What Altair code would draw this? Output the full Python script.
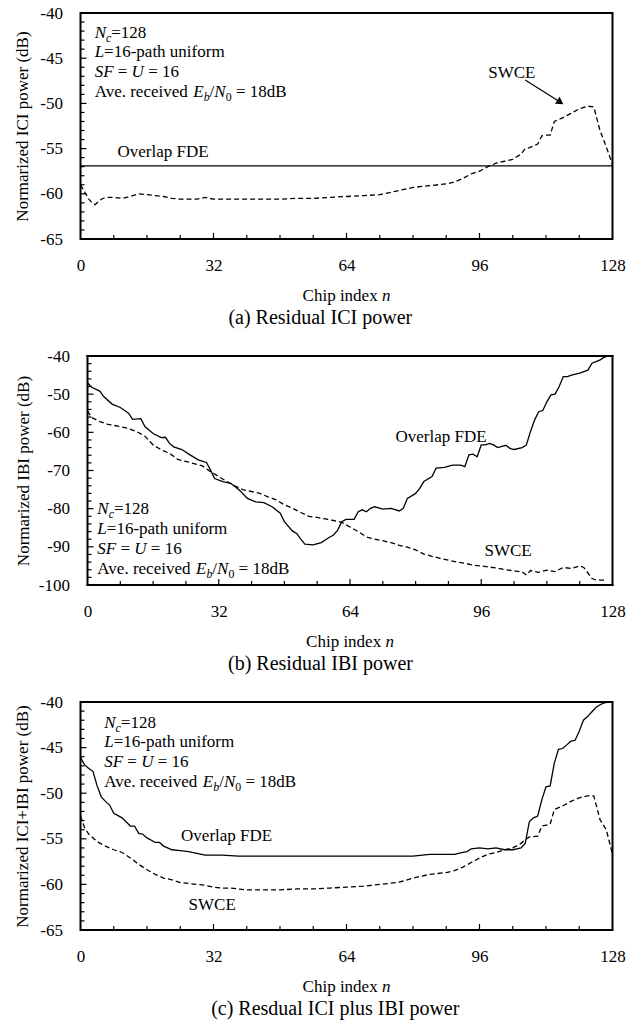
import altair as alt
import pandas as pd

FONT = "Liberation Serif"

# ---------------- data ----------------
# (a) residual ICI power
N_A_SWCE = [0, 1, 2, 3, 3.5, 4, 5, 6, 8, 10, 12, 14, 16, 18, 20, 22, 24, 26, 28, 30, 32, 34, 36,
            40, 44, 48, 52, 56, 60, 64, 68, 72, 76, 80, 84, 88, 90, 92, 94, 96, 98, 100, 102,
            104, 106, 107, 108, 110, 111, 112, 113, 114, 115, 116, 118, 120, 122, 123.5, 125,
            126.5, 128]
P_A_SWCE = [-59.0, -59.8, -60.6, -61.1, -61.2, -61.0, -60.6, -60.4, -60.4, -60.5, -60.3, -60.0,
            -60.1, -60.2, -60.3, -60.5, -60.6, -60.6, -60.6, -60.4, -60.6, -60.6, -60.6,
            -60.6, -60.6, -60.6, -60.5, -60.5, -60.4, -60.3, -60.2, -60.1, -59.7, -59.3, -59.1,
            -58.9, -58.7, -58.3, -57.8, -57.5, -57.0, -56.6, -56.4, -56.2, -55.6, -55.0, -54.9,
            -54.5, -53.6, -53.5, -53.5, -52.0, -51.8, -51.6, -51.1, -50.6, -50.3, -50.4, -53.0,
            -54.8, -56.8]
N_A_FDE = [0, 128]
P_A_FDE = [-56.9, -56.9]

# (b) residual IBI power
N_B_FDE = [0, 1, 3, 4, 6, 8, 10, 11, 13, 14, 16, 18, 19, 20, 21, 23, 25, 27, 29, 30, 31, 33, 35,
           37, 39, 41, 43, 45, 47, 48, 50, 51, 52, 53, 55, 57, 59, 60, 61, 62, 63, 65, 66, 67,
           68, 69, 70, 72, 74, 76, 77, 78, 80, 81, 82, 84, 85, 87, 89, 91, 92, 93, 94, 95, 96,
           97, 98, 99, 100, 102, 103, 104, 106, 107, 108, 109, 110, 111, 112, 113, 114, 115,
           116, 117, 118, 120, 122, 123, 125, 126, 127, 128]
P_B_FDE = [-47.0, -48.2, -49.2, -50.7, -52.6, -53.5, -55.0, -56.6, -56.4, -58.5, -60.3, -61.4,
           -61.3, -62.9, -63.8, -64.5, -65.9, -67.2, -67.9, -69.9, -72.1, -72.9, -73.4, -75.1,
           -77.3, -78.2, -78.4, -79.5, -81.2, -83.4, -85.9, -86.5, -88.0, -89.3, -89.5, -88.9,
           -87.5, -86.9, -85.6, -83.4, -82.8, -82.8, -80.8, -80.3, -80.8, -79.9, -79.5, -80.1,
           -79.9, -80.6, -79.9, -77.3, -76.0, -74.7, -72.9, -71.6, -69.4, -69.2, -68.6, -68.6,
           -69.0, -65.9, -65.7, -66.4, -63.3, -63.3, -62.9, -63.3, -64.0, -63.4, -64.2, -64.5,
           -64.0, -63.3, -59.8, -56.8, -54.6, -54.3, -52.0, -50.2, -50.0, -48.0, -45.4, -45.4,
           -45.0, -44.5, -43.7, -41.9, -41.0, -40.3, -40.0, -40.0]
N_B_SWCE = [0, 1, 3, 5, 8, 10, 12, 14, 16, 18, 20, 22, 25, 28, 30, 32, 34, 36, 38, 40, 42, 44,
            46, 48, 50, 52, 54, 56, 58, 60, 62, 64, 66, 68, 70, 72, 74, 76, 78, 80, 82, 84, 86,
            88, 90, 92, 94, 96, 98, 100, 102, 104, 106, 107, 108, 110, 112, 114, 116, 118, 120,
            121, 123, 124, 126]
P_B_SWCE = [-54.4, -56.1, -57.2, -57.9, -58.5, -59.0, -59.8, -61.0, -63.3, -64.6, -65.5, -67.1,
            -67.9, -68.8, -70.3, -71.6, -72.9, -74.1, -75.1, -75.5, -76.0, -76.9, -77.7, -79.0,
            -79.9, -81.0, -82.0, -82.3, -82.7, -83.1, -83.6, -84.8, -86.0, -87.4, -88.0, -88.4,
            -88.9, -89.6, -90.1, -90.8, -91.9, -92.5, -93.0, -93.5, -94.0, -94.3, -94.8, -95.0,
            -95.3, -95.6, -96.0, -96.3, -96.6, -97.4, -96.2, -96.7, -96.1, -96.5, -95.4, -95.7,
            -95.0, -95.4, -98.3, -98.7, -98.7]

# (c) residual ICI plus IBI power
N_C_FDE = [0, 1, 2, 3, 4, 5, 6, 7, 8, 10, 12, 13, 14, 15, 16, 18, 19, 20, 22, 24, 26, 28, 30,
           34, 38, 44, 50, 56, 62, 68, 74, 80, 84, 88, 90, 92, 93, 94, 96, 98, 100, 102, 104,
           105, 106, 107, 108, 109, 110, 111, 112, 113, 114, 115, 116, 117, 118, 119, 120, 121,
           122, 123, 124, 125, 126, 127]
P_C_FDE = [-46.1, -46.9, -47.3, -47.6, -49.2, -50.4, -50.9, -51.3, -52.2, -52.7, -53.6, -53.6,
           -54.4, -54.5, -54.9, -55.4, -55.4, -55.8, -56.2, -56.3, -56.4, -56.6, -56.8, -56.8,
           -56.9, -56.9, -56.9, -56.9, -56.9, -56.9, -56.9, -56.9, -56.7, -56.7, -56.7, -56.5,
           -56.4, -56.1, -56.0, -56.1, -56.0, -56.2, -56.2, -56.1, -56.0, -55.5, -53.1, -52.7,
           -52.5, -50.7, -49.3, -49.2, -46.7, -45.2, -45.1, -44.7, -44.3, -44.2, -43.2, -42.0,
           -41.6, -41.1, -40.6, -40.3, -40.1, -40.0]
N_C_SWCE = [0, 1, 2, 4, 6, 8, 10, 12, 14, 16, 18, 20, 22, 24, 26, 28, 30, 32, 34, 36, 40, 44,
            48, 52, 56, 60, 64, 68, 72, 76, 78, 80, 84, 88, 90, 92, 94, 96, 98, 100, 102, 104,
            106, 107, 108, 110, 111, 113, 114, 116, 118, 120, 122, 123.5, 125, 126.5, 128]
P_C_SWCE = [-52.5, -53.8, -54.5, -55.3, -55.8, -56.2, -56.5, -57.1, -57.8, -58.4, -58.9, -59.3,
            -59.5, -59.8, -59.9, -60.0, -60.1, -60.3, -60.4, -60.4, -60.6, -60.6, -60.6, -60.5,
            -60.5, -60.4, -60.3, -60.2, -60.0, -59.8, -59.6, -59.3, -58.9, -58.7, -58.5, -58.1,
            -57.6, -57.1, -56.7, -56.5, -56.2, -56.0, -55.5, -55.1, -54.8, -54.7, -53.6, -53.4,
            -51.8, -51.4, -50.9, -50.5, -50.3, -50.3, -52.9, -54.0, -56.7]

X_LABELS = [0, 32, 64, 96, 128]
INFO_LINES = [
    [("N", "i"), ("c", "s"), ("=128", "r")],
    [("L", "i"), ("=16-path uniform", "r")],
    [("SF", "i"), (" = ", "r"), ("U", "i"), (" = 16", "r")],
    [("Ave. received ", "r"), ("E", "i"), ("b", "s"), ("/", "r"), ("N", "i"), ("0", "sr"),
     (" = 18dB", "r")],
]
XTITLE = [("Chip index ", "r"), ("n", "i")]

# ---------------- text metrics (Times / Liberation Serif) ----------------
REG = {' ': 250, '=': 564, '-': 333, '.': 250, '/': 278, '(': 333, ')': 333, '+': 564,
       'A': 722, 'B': 667, 'C': 667, 'D': 722, 'E': 611, 'F': 556, 'I': 333, 'O': 722,
       'R': 667, 'S': 556, 'W': 944, 'a': 444, 'b': 500, 'c': 444, 'd': 500, 'e': 444,
       'f': 333, 'h': 500, 'i': 278, 'l': 278, 'm': 778, 'n': 500, 'o': 500, 'p': 500,
       'r': 333, 's': 389, 't': 278, 'u': 500, 'v': 500, 'w': 722, 'x': 500}
ITA = {'N': 667, 'c': 444, 'L': 556, 'S': 500, 'F': 611, 'U': 722, 'E': 611, 'b': 500, 'n': 500}
FS = 17
SUB = 0.7


def width(s, kind, size):
    tab = ITA if kind in ("i", "s") else REG
    return sum(tab.get(ch, 500) for ch in s) * size / 1000.0


def seg_rows(lines, x0, ys, pxu, center=False):
    rows = []
    for line, y in zip(lines, ys):
        total = sum(width(t, k, FS * SUB if k in ("s", "sr") else FS) for t, k in line)
        off = -total / 2 if center else 0.0
        for text, kind in line:
            size = FS * SUB if kind in ("s", "sr") else FS
            lead = len(text) - len(text.lstrip(" "))
            body = text.strip(" ")
            if body:
                rows.append({"x": x0 + (off + width(" " * lead, "r", size)) / pxu,
                             "y": y, "t": body, "k": kind})
            off += width(text, kind, size)
    return pd.DataFrame(rows)


STYLES = [("r", "normal", FS, 0), ("i", "italic", FS, 0),
          ("s", "italic", FS * SUB, 5), ("sr", "normal", FS * SUB, 5)]


def text_layers(df, X, Y=None, ypix=None):
    out = []
    for kind, style, size, dy in STYLES:
        sub = df[df["k"] == kind]
        if len(sub) == 0:
            continue
        enc = {"x": X, "text": "t:N"}
        enc["y"] = Y if Y is not None else alt.value(ypix)
        out.append(alt.Chart(sub).mark_text(font=FONT, fontSize=size, fontStyle=style,
                                            align="left", baseline="middle", dy=dy,
                                            color="black").encode(**enc))
    return out


def panel(W, H, xmin, ymin, ymax, ystep_lab, ystep_tick, ytitle, lpad, tpad, series,
          info_x, info_ys, labels, caption, cap_x, arrow=None):
    pxu = W / float(128 - xmin)
    pyu = H / float(ymax - ymin)
    xaxis = alt.Axis(values=X_LABELS, title=None, ticks=False, domain=False, grid=False,
                     labelPadding=18, labelFlush=False, labelOverlap=False)
    yvals = list(range(ymin, ymax + 1, ystep_lab))
    yaxis = alt.Axis(values=yvals, title=ytitle, ticks=False, domain=False, grid=False,
                     labelPadding=lpad, titlePadding=tpad, labelExpr="'' + datum.value",
                     labelFlush=False, labelOverlap=False)
    X = alt.X("x:Q", scale=alt.Scale(domain=[xmin, 128], nice=False, zero=False), axis=xaxis)
    Y = alt.Y("y:Q", scale=alt.Scale(domain=[ymin, ymax], nice=False, zero=False), axis=yaxis)

    layers = []
    for ns, ps, dashed in series:
        df = pd.DataFrame({"x": ns, "y": ps})
        kw = dict(color="black", strokeWidth=1.3)
        if dashed:
            kw["strokeDash"] = [5, 3]
        layers.append(alt.Chart(df).mark_line(**kw).encode(x=X, y=Y))

    # frame drawn from the data range when the view is widened
    if xmin < 0:
        fr = pd.DataFrame({"x": [0, 128, 0, 0], "x2": [0, 128, 128, 128],
                           "y": [ymin, ymin, ymin, ymax], "y2": [ymax, ymax, ymin, ymax]})
        layers.append(alt.Chart(fr).mark_rule(color="black", strokeWidth=2, strokeCap="square")
                      .encode(x=X, x2="x2:Q", y=Y, y2="y2:Q"))

    # inward ticks
    xt = [v for v in range(8, 128, 8)]
    xt_df = pd.DataFrame({"x": xt, "x2": xt, "y": [ymin] * len(xt),
                          "y2": [ymin + (6 if v % 32 == 0 else 4) / pyu for v in xt]})
    yt = [v for v in range(ymin + ystep_tick, ymax, ystep_tick)]
    yt_df = pd.DataFrame({"x": [0] * len(yt),
                          "x2": [(6 if v % ystep_lab == 0 else 4) / pxu for v in yt],
                          "y": yt, "y2": yt})
    for tdf in (xt_df, yt_df):
        layers.append(alt.Chart(tdf).mark_rule(color="black", strokeWidth=1.2)
                      .encode(x=X, x2="x2:Q", y=Y, y2="y2:Q"))

    # info block
    layers += text_layers(seg_rows(INFO_LINES, info_x, info_ys, pxu), X, Y=Y)
    # curve labels
    lab_df = pd.DataFrame([{"x": lx, "y": ly, "t": lt, "k": "r"} for lt, lx, ly in labels])
    layers += text_layers(lab_df, X, Y=Y)
    # arrow
    if arrow is not None:
        (ax0, ay0), (ax1, ay1), ang = arrow
        layers.append(alt.Chart(pd.DataFrame({"x": [ax0], "y": [ay0], "x2": [ax1], "y2": [ay1]}))
                      .mark_rule(color="black", strokeWidth=1.2)
                      .encode(x=X, y=Y, x2="x2:Q", y2="y2:Q"))
        layers.append(alt.Chart(pd.DataFrame({"x": [ax1], "y": [ay1]}))
                      .mark_point(shape="triangle", filled=True, color="black", size=70,
                                  angle=ang, opacity=1).encode(x=X, y=Y))
    # x axis title (with italic n) and caption
    layers += text_layers(seg_rows([XTITLE], 64, [0], pxu, center=True), X, ypix=H + 57)
    cap_df = pd.DataFrame({"x": [cap_x], "t": [caption]})
    layers.append(alt.Chart(cap_df).mark_text(font=FONT, fontSize=20, align="center",
                                              baseline="middle", color="black")
                  .encode(x=X, y=alt.value(H + 79), text="t:N"))
    ch = alt.layer(*layers).properties(width=W, height=H)
    if xmin < 0:
        ch = ch.properties(view=alt.ViewBackground(strokeOpacity=0))
    return ch


pa = panel(532, 226, 0, -65, -40, 5, 1, "Normarized ICI power (dB)", 18, 8.8,
           [(N_A_FDE, P_A_FDE, False), (N_A_SWCE, P_A_SWCE, True)],
           3.4, [-42.18, -44.35, -46.56, -48.71],
           [("Overlap FDE", 8.9, -55.4), ("SWCE", 98.1, -46.6)],
           "(a) Residual ICI power", 57.7,
           arrow=((107.0, -47.4), (115.2, -49.8), 123))

pb = panel(532, 229, -1.707, -100, -40, 10, 2, "Normarized IBI power (dB)", 11, 5.8,
           [(N_B_FDE, P_B_FDE, False), (N_B_SWCE, P_B_SWCE, True)],
           2.4, [-80.1, -85.3, -90.6, -95.8],
           [("Overlap FDE", 75.1, -61.2), ("SWCE", 96.8, -91.1)],
           "(b) Residual IBI power", 56.8)

pc = panel(532, 228, 0, -65, -40, 5, 1, "Normarized ICI+IBI power (dB)", 18, 8.8,
           [(N_C_FDE, P_C_FDE, False), (N_C_SWCE, P_C_SWCE, True)],
           5.7, [-42.27, -44.39, -46.58, -48.74],
           [("Overlap FDE", 24.2, -54.7), ("SWCE", 26.0, -62.3)],
           "(c) Resdual ICI plus IBI power", 61.3)

chart = alt.vconcat(pa, pb, pc, spacing=18).properties(
    padding={"left": 11.5, "top": 3, "right": 5, "bottom": 3},
    background="white",
).configure_view(stroke="black", strokeWidth=2).configure_axis(
    labelFont=FONT, labelFontSize=17, labelColor="black",
    titleFont=FONT, titleFontSize=17, titleFontWeight="normal", titleColor="black",
)

chart.save("out.html", embed_options={"renderer": "svg", "actions": False})
